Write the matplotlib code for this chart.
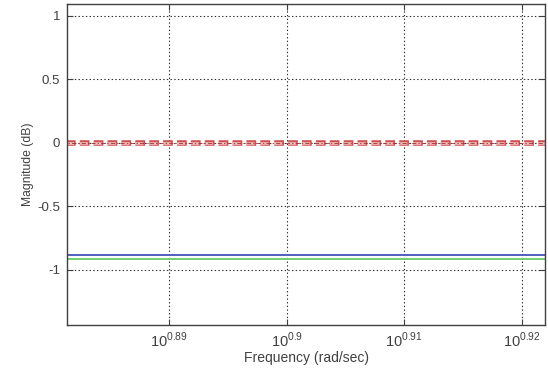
import matplotlib
matplotlib.use("Agg")
import matplotlib.pyplot as plt
import numpy as np

# frequency endpoints (rad/sec) and magnitudes (dB) of the flat responses
freq = [10 ** 0.880, 10 ** 0.923]
mag_blue = [-0.885, -0.885]
mag_green = [-0.91, -0.91]
mag_red = [0.0, 0.0]

x_ticks = [0.89, 0.90, 0.91, 0.92]
x_labels = ["$10^{0.89}$", "$10^{0.9}$", "$10^{0.91}$", "$10^{0.92}$"]
y_ticks = [-1, -0.5, 0, 0.5, 1]
y_labels = ["-1", "-0.5", "0", "0.5", "1"]

plt.rcParams["font.family"] = ["Liberation Sans", "DejaVu Sans"]
plt.rcParams["mathtext.fontset"] = "custom"
plt.rcParams["mathtext.rm"] = "Liberation Sans"
plt.rcParams["lines.scale_dashes"] = False

fig = plt.figure(figsize=(5.48, 3.69), dpi=100)
ax = fig.add_axes([67 / 548, 1 - 325 / 369, (545 - 67) / 548, (325 - 4) / 369])

ax.plot(freq, mag_blue, color="#5060c0", lw=1.4)
ax.plot(freq, mag_green, color="#70d070", lw=1.4)
# hollow red dashes with a thin dark dash-dot line through them
ax.plot(freq, mag_red, color="#d05050", lw=4.0, ls=(0, (7.0, 3.0)),
        solid_capstyle="butt", dash_capstyle="butt")
ax.plot(freq, mag_red, color="#f2c4c4", lw=1.8, ls=(0.5, (6.0, 4.0)),
        dash_capstyle="butt")
ax.plot(freq, mag_red, color="#a03030", lw=0.6, ls=(0, (3, 1.5, 1, 1.5)))

ax.set_xscale("log")
ax.set_xlim(10 ** 0.8813, 10 ** 0.922)
ax.set_ylim(-1.433, 1.094)

ax.set_xticks([10 ** t for t in x_ticks])
ax.set_xticklabels(x_labels)
ax.xaxis.set_minor_locator(matplotlib.ticker.NullLocator())
ax.set_yticks(y_ticks)
ax.set_yticklabels(y_labels)

ax.tick_params(direction="in", length=4, labelsize=9.5, colors="#404040",
               top=True, right=True, pad=5)
ax.tick_params(axis="x", labelsize=10.5, pad=4)
ax.grid(True, color="#303030", ls=":", lw=0.8)
for s in ax.spines.values():
    s.set_color("#404040")
    s.set_linewidth(1.0)

ax.set_xlabel("Frequency (rad/sec)", fontsize=10, color="#404040", labelpad=1)
ax.set_ylabel("Magnitude (dB)", fontsize=8.7, color="#404040", labelpad=2)

fig.savefig("out.png", dpi=100)
